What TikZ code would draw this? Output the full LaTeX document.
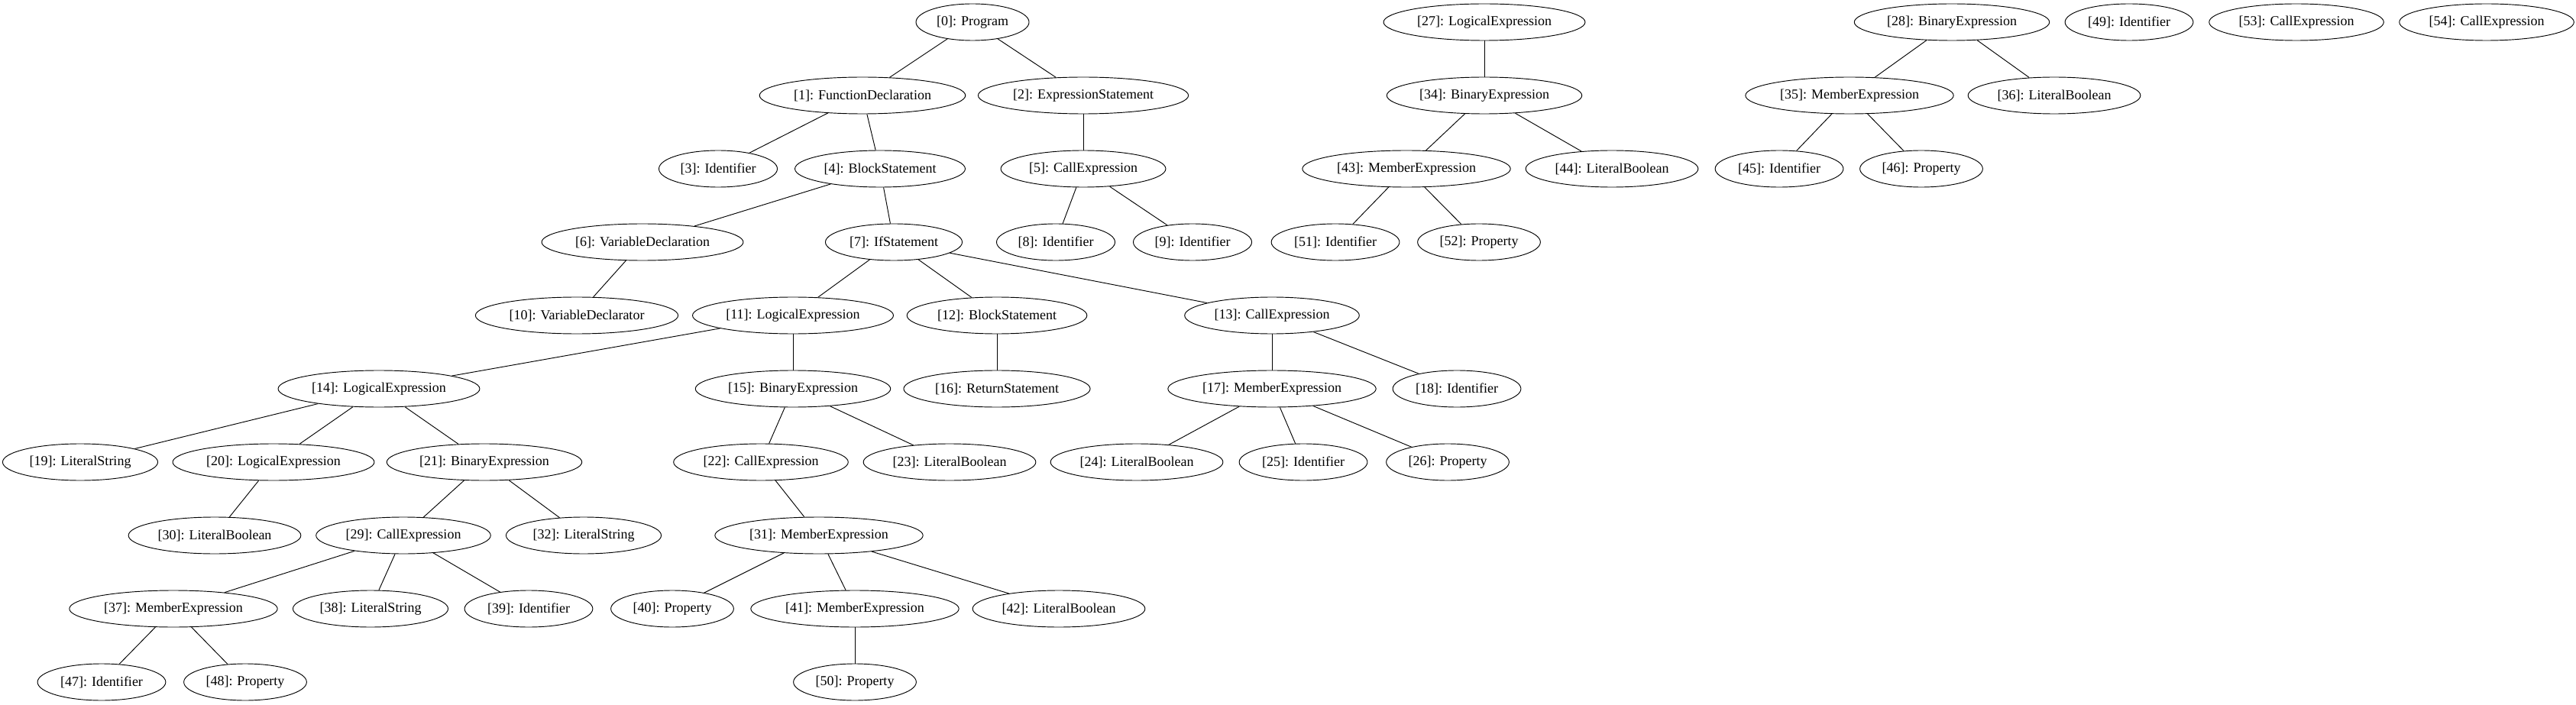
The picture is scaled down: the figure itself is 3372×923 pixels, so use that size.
\documentclass[tikz,border=0pt]{standalone}
\usepackage{fontspec}
\setmainfont{Liberation Serif}
\usetikzlibrary{shapes.geometric}
\tikzset{
    astnode/.style={
    ellipse,
    minimum height=36pt,
    inner xsep=4pt,
    inner ysep=2pt,
    font=\fontsize{13.5}{16}\selectfont
    }
}

\begin{document}
\begin{tikzpicture}[x=0.75pt,y=-0.75pt,line width=0.7pt]
\useasboundingbox (0,0) rectangle (3372,923);

\node [draw,astnode](n0) at (1273,29) {[0]: Program};
\node [draw,astnode](n27) at (1943,29) {[27]: LogicalExpression};
\node [draw,astnode](n28) at (2555,29) {[28]: BinaryExpression};
\node [draw,astnode](n49) at (2787,29) {[49]: Identifier};
\node [draw,astnode](n53) at (3006,29) {[53]: CallExpression};
\node [draw,astnode](n54) at (3255,29) {[54]: CallExpression};

\node [draw,astnode](n1) at (1129,125) {[1]: FunctionDeclaration};
\node [draw,astnode](n2) at (1418,125) {[2]: ExpressionStatement};
\node [draw,astnode](n34) at (1943,125) {[34]: BinaryExpression};
\node [draw,astnode](n35) at (2421,125) {[35]: MemberExpression};
\node [draw,astnode](n36) at (2689,125) {[36]: LiteralBoolean};

\node [draw,astnode](n3) at (940,221) {[3]: Identifier};
\node [draw,astnode](n4) at (1152,221) {[4]: BlockStatement};
\node [draw,astnode](n5) at (1418,221) {[5]: CallExpression};
\node [draw,astnode](n43) at (1841,221) {[43]: MemberExpression};
\node [draw,astnode](n44) at (2110,221) {[44]: LiteralBoolean};
\node [draw,astnode](n45) at (2329,221) {[45]: Identifier};
\node [draw,astnode](n46) at (2515,221) {[46]: Property};

\node [draw,astnode](n6) at (841,317) {[6]: VariableDeclaration};
\node [draw,astnode](n7) at (1170,317) {[7]: IfStatement};
\node [draw,astnode](n8) at (1382,317) {[8]: Identifier};
\node [draw,astnode](n9) at (1561,317) {[9]: Identifier};
\node [draw,astnode](n51) at (1748,317) {[51]: Identifier};
\node [draw,astnode](n52) at (1936,317) {[52]: Property};

\node [draw,astnode](n10) at (755,413) {[10]: VariableDeclarator};
\node [draw,astnode](n11) at (1038,413) {[11]: LogicalExpression};
\node [draw,astnode](n12) at (1305,413) {[12]: BlockStatement};
\node [draw,astnode](n13) at (1665,413) {[13]: CallExpression};

\node [draw,astnode](n14) at (496,509) {[14]: LogicalExpression};
\node [draw,astnode](n15) at (1038,509) {[15]: BinaryExpression};
\node [draw,astnode](n16) at (1305,509) {[16]: ReturnStatement};
\node [draw,astnode](n17) at (1665,509) {[17]: MemberExpression};
\node [draw,astnode](n18) at (1907,509) {[18]: Identifier};

\node [draw,astnode](n19) at (105,605) {[19]: LiteralString};
\node [draw,astnode](n20) at (358,605) {[20]: LogicalExpression};
\node [draw,astnode](n21) at (634,605) {[21]: BinaryExpression};
\node [draw,astnode](n22) at (996,605) {[22]: CallExpression};
\node [draw,astnode](n23) at (1243,605) {[23]: LiteralBoolean};
\node [draw,astnode](n24) at (1488,605) {[24]: LiteralBoolean};
\node [draw,astnode](n25) at (1706,605) {[25]: Identifier};
\node [draw,astnode](n26) at (1895,605) {[26]: Property};

\node [draw,astnode](n30) at (281,701) {[30]: LiteralBoolean};
\node [draw,astnode](n29) at (528,701) {[29]: CallExpression};
\node [draw,astnode](n32) at (764,701) {[32]: LiteralString};
\node [draw,astnode](n31) at (1072,701) {[31]: MemberExpression};

\node [draw,astnode](n37) at (227,797) {[37]: MemberExpression};
\node [draw,astnode](n38) at (485,797) {[38]: LiteralString};
\node [draw,astnode](n39) at (692,797) {[39]: Identifier};
\node [draw,astnode](n40) at (880,797) {[40]: Property};
\node [draw,astnode](n41) at (1119,797) {[41]: MemberExpression};
\node [draw,astnode](n42) at (1386,797) {[42]: LiteralBoolean};

\node [draw,astnode](n47) at (133,893) {[47]: Identifier};
\node [draw,astnode](n48) at (321,893) {[48]: Property};
\node [draw,astnode](n50) at (1119,893) {[50]: Property};

\draw (n0) -- (n1);
\draw (n0) -- (n2);
\draw (n1) -- (n3);
\draw (n1) -- (n4);
\draw (n2) -- (n5);
\draw (n4) -- (n6);
\draw (n4) -- (n7);
\draw (n5) -- (n8);
\draw (n5) -- (n9);
\draw (n6) -- (n10);
\draw (n7) -- (n11);
\draw (n7) -- (n12);
\draw (n7) -- (n13);
\draw (n11) -- (n14);
\draw (n11) -- (n15);
\draw (n12) -- (n16);
\draw (n13) -- (n17);
\draw (n13) -- (n18);
\draw (n14) -- (n19);
\draw (n14) -- (n20);
\draw (n14) -- (n21);
\draw (n15) -- (n22);
\draw (n15) -- (n23);
\draw (n17) -- (n24);
\draw (n17) -- (n25);
\draw (n17) -- (n26);
\draw (n20) -- (n30);
\draw (n21) -- (n29);
\draw (n21) -- (n32);
\draw (n22) -- (n31);
\draw (n29) -- (n37);
\draw (n29) -- (n38);
\draw (n29) -- (n39);
\draw (n31) -- (n40);
\draw (n31) -- (n41);
\draw (n31) -- (n42);
\draw (n37) -- (n47);
\draw (n37) -- (n48);
\draw (n41) -- (n50);
\draw (n27) -- (n34);
\draw (n34) -- (n43);
\draw (n34) -- (n44);
\draw (n43) -- (n51);
\draw (n43) -- (n52);
\draw (n28) -- (n35);
\draw (n28) -- (n36);
\draw (n35) -- (n45);
\draw (n35) -- (n46);

\end{tikzpicture}
\end{document}
